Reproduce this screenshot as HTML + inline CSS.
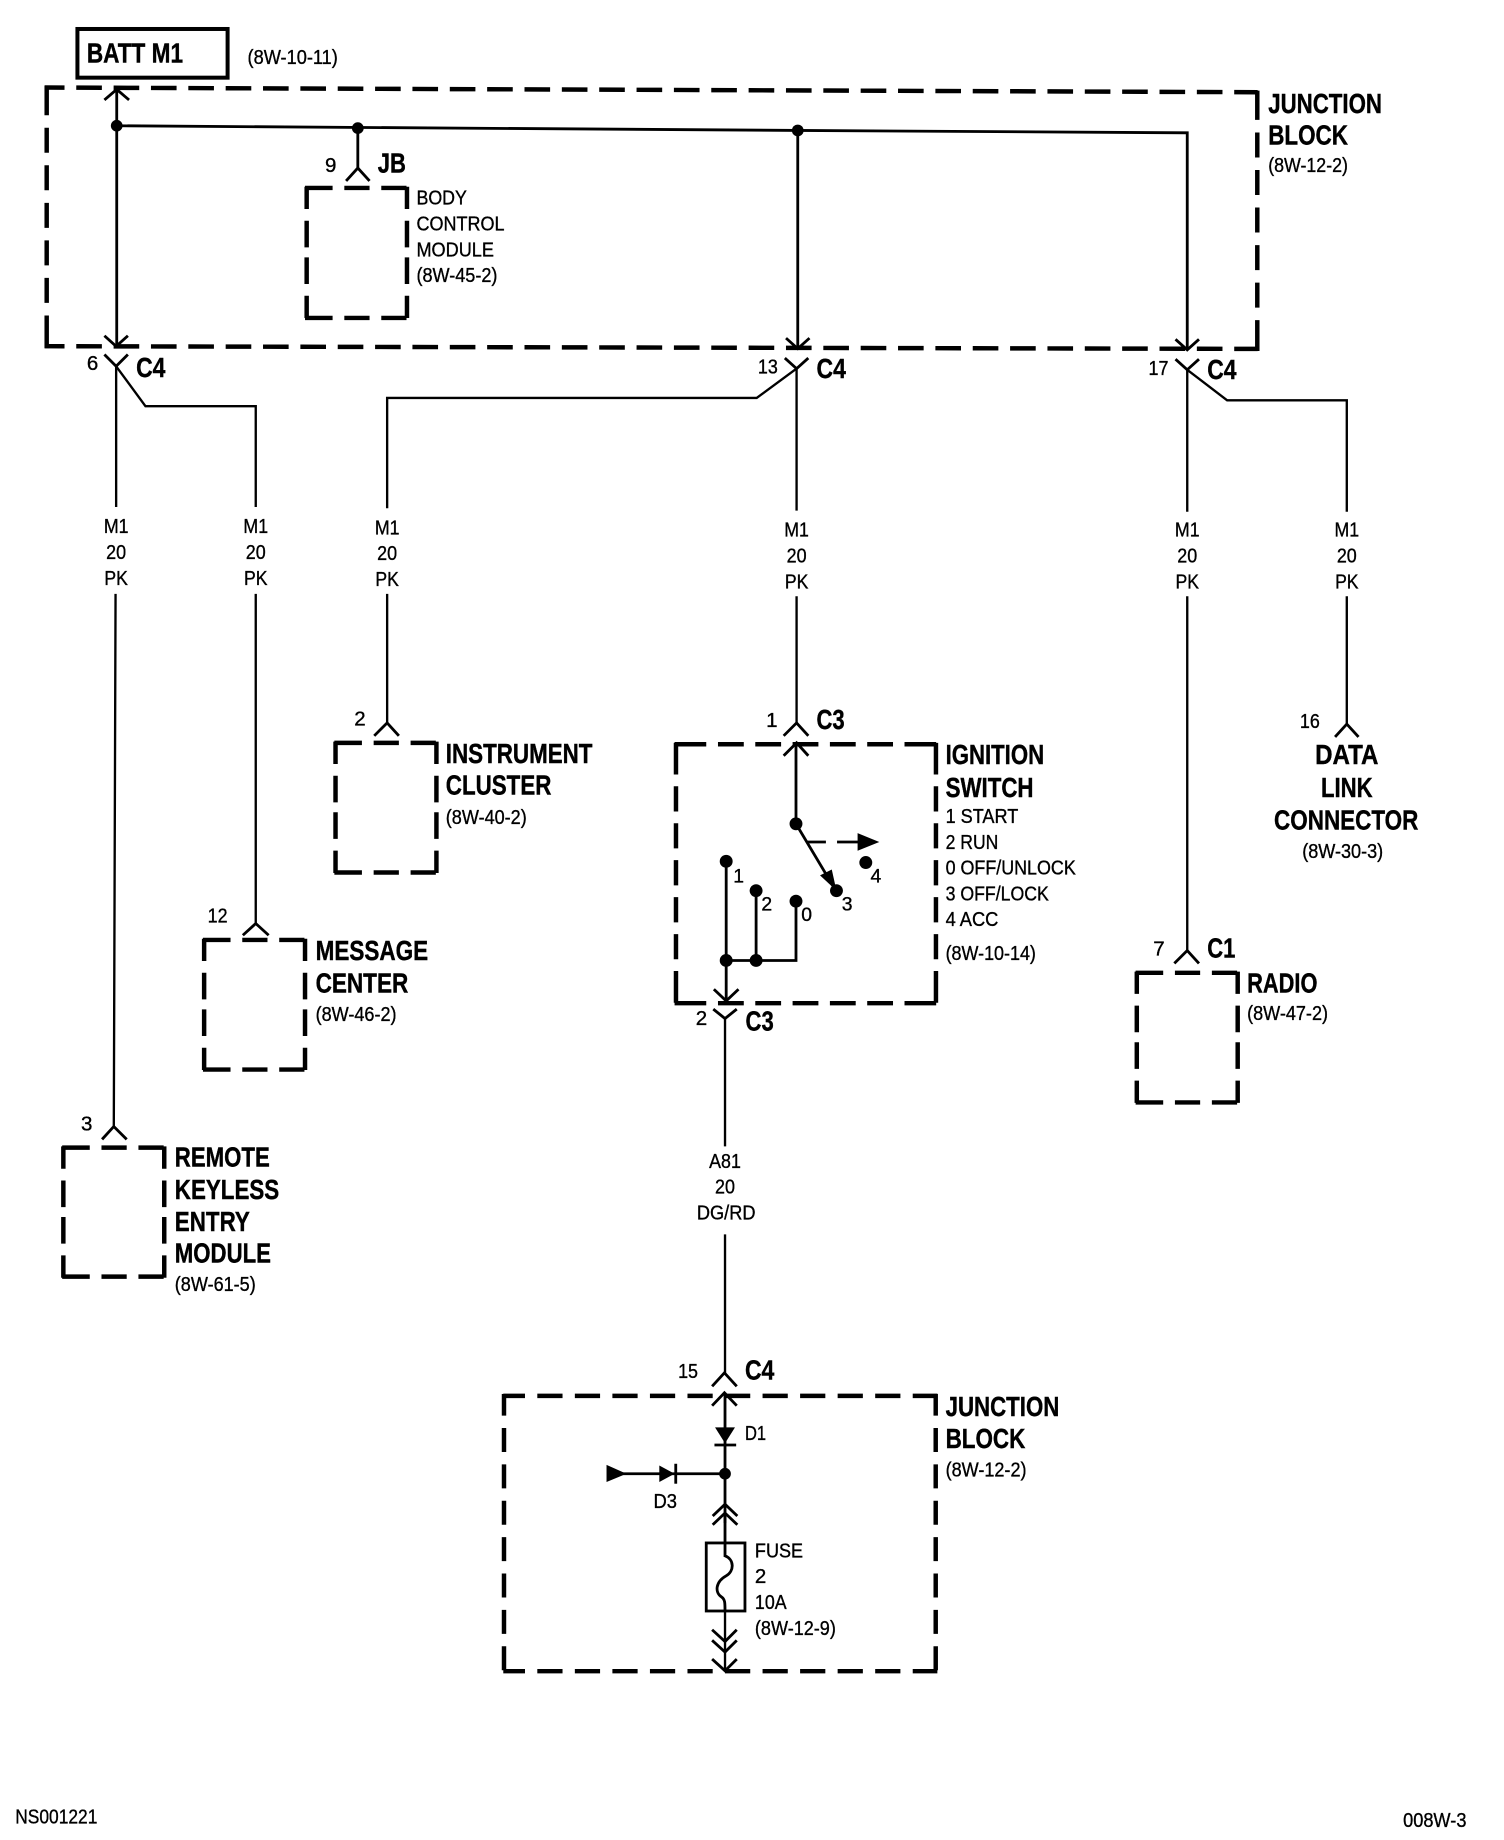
<!DOCTYPE html>
<html><head><meta charset="utf-8"><style>
html,body{margin:0;padding:0;background:#fff}
svg{display:block}
text{font-family:"Liberation Sans",Arial,sans-serif;fill:#000;stroke:#000}
.b{font-size:23.5px;font-weight:bold;stroke-width:.35px}
.n{font-size:17.5px;stroke-width:.3px;transform:translateY(-.7px)}
.f{font-size:16.5px;stroke-width:.3px}
.w{fill:none;stroke:#000;stroke-width:2}
.t{fill:none;stroke:#000;stroke-width:2.4}
.d{fill:none;stroke:#000;stroke-width:3.8}
.s1{stroke-dasharray:23.5 10 21.5 10 21.5}
.s2{stroke-dasharray:19 10 22.7 8.5 22.7 10 19}
.ms{stroke-dasharray:21.84 10;stroke-dashoffset:4.84}
.mv{stroke-dasharray:25 10.7 21.3 10.7 21.3 10.7 21.3 10.7 21.3 10.7 21.3 10.7 30}
.igh{stroke-dasharray:27 10 22 9.8 22 9.8 22 9.8 22 9.8 22 9.8 27}
.igv{stroke-dasharray:27 10 21.5 10 21.5 10 21.5 10 21.5 10 21.5 10 27}
.jh{stroke-dasharray:21.5 10.5;stroke-dashoffset:3}
.jv{stroke-dasharray:20.5 10.5;stroke-dashoffset:2}
</style></head><body>
<svg width="1504" height="1840" viewBox="0 0 1282 1568" xmlns="http://www.w3.org/2000/svg">
<rect width="1282" height="1568" fill="#fff"/>

<!-- BATT -->
<rect x="66" y="24.5" width="128" height="41.5" fill="none" stroke="#000" stroke-width="3.4"/>
<text class="b" x="74" y="53" textLength="82" lengthAdjust="spacingAndGlyphs">BATT M1</text>
<text class="n" x="211" y="55" textLength="77" lengthAdjust="spacingAndGlyphs">(8W-10-11)</text>

<!-- main junction box -->
<path class="d ms" d="M38 74.4L1072 78.4"/><path class="d ms" d="M38 294.9L1072 297.2"/>
<path class="d mv" d="M39.8 73V296.5"/><path class="d mv" d="M1071.7 77V299"/>
<text class="b" x="1081" y="96" textLength="97" lengthAdjust="spacingAndGlyphs">JUNCTION</text>
<text class="b" x="1081" y="123" textLength="68" lengthAdjust="spacingAndGlyphs">BLOCK</text>
<text class="n" x="1081" y="147" textLength="68" lengthAdjust="spacingAndGlyphs">(8W-12-2)</text>

<!-- bus -->
<path class="t" d="M99 107L680 111L1012 113V298"/>
<path class="t" d="M99.5 76V295"/><path class="t" d="M89 85L99.5 76L110 85"/>
<path class="t" d="M305 109V143"/><path class="t" d="M295 154L305 143L315 154"/>
<path class="t" d="M680 111V297"/>
<circle cx="99.5" cy="107" r="5"/><circle cx="305" cy="109" r="5"/><circle cx="680" cy="111" r="5"/>
<path class="t" d="M89 286L99 295L109 286"/><path class="t" d="M670 288L680 297L690 288"/><path class="t" d="M1002 289L1012 298L1022 289"/>
<path class="t" d="M89 302L99 312L109 302"/><path class="t" d="M669 305L679 314L689 305"/><path class="t" d="M1002 306L1012 315L1022 306"/>

<!-- BCM -->
<text class="n" x="277" y="147">9</text>
<text class="b" x="322" y="147" textLength="24" lengthAdjust="spacingAndGlyphs">JB</text>
<path class="d s1" d="M260 160H348"/><path class="d s1" d="M260 270.8H348"/>
<path class="d s2" d="M261.4 159V271"/><path class="d s2" d="M346.9 159V271"/>
<text class="n" x="355" y="175" textLength="43" lengthAdjust="spacingAndGlyphs">BODY</text>
<text class="n" x="355" y="197" textLength="75" lengthAdjust="spacingAndGlyphs">CONTROL</text>
<text class="n" x="355" y="219" textLength="66" lengthAdjust="spacingAndGlyphs">MODULE</text>
<text class="n" x="355" y="241" textLength="69" lengthAdjust="spacingAndGlyphs">(8W-45-2)</text>

<!-- C4 labels -->
<text class="n" x="74" y="316">6</text>
<text class="b" x="116" y="321" textLength="25" lengthAdjust="spacingAndGlyphs">C4</text>
<text class="n" x="646" y="319" textLength="17" lengthAdjust="spacingAndGlyphs">13</text>
<text class="b" x="696" y="322" textLength="25" lengthAdjust="spacingAndGlyphs">C4</text>
<text class="n" x="979" y="320" textLength="17" lengthAdjust="spacingAndGlyphs">17</text>
<text class="b" x="1029" y="323" textLength="25" lengthAdjust="spacingAndGlyphs">C4</text>

<!-- wires -->
<path class="w" d="M99 312V432M98.5 506L97 960"/>
<path class="w" d="M99 312L124 346H218V432M218 506V787"/>
<path class="w" d="M679 314L645 339H330V433M330 506V616"/>
<path class="w" d="M679 314V435M679 508V616"/>
<path class="w" d="M1012 315V436M1012 508V810"/>
<path class="w" d="M1012 315L1046 341H1148V436M1148 508V617"/>

<!-- wire labels -->
<g class="n" text-anchor="middle">
<text x="99" y="455" textLength="21" lengthAdjust="spacingAndGlyphs">M1</text><text x="99" y="477" textLength="17" lengthAdjust="spacingAndGlyphs">20</text><text x="99" y="499" textLength="20" lengthAdjust="spacingAndGlyphs">PK</text>
<text x="218" y="455" textLength="21" lengthAdjust="spacingAndGlyphs">M1</text><text x="218" y="477" textLength="17" lengthAdjust="spacingAndGlyphs">20</text><text x="218" y="499" textLength="20" lengthAdjust="spacingAndGlyphs">PK</text>
<text x="330" y="456" textLength="21" lengthAdjust="spacingAndGlyphs">M1</text><text x="330" y="478" textLength="17" lengthAdjust="spacingAndGlyphs">20</text><text x="330" y="500" textLength="20" lengthAdjust="spacingAndGlyphs">PK</text>
<text x="679" y="458" textLength="21" lengthAdjust="spacingAndGlyphs">M1</text><text x="679" y="480" textLength="17" lengthAdjust="spacingAndGlyphs">20</text><text x="679" y="502" textLength="20" lengthAdjust="spacingAndGlyphs">PK</text>
<text x="1012" y="458" textLength="21" lengthAdjust="spacingAndGlyphs">M1</text><text x="1012" y="480" textLength="17" lengthAdjust="spacingAndGlyphs">20</text><text x="1012" y="502" textLength="20" lengthAdjust="spacingAndGlyphs">PK</text>
<text x="1148" y="458" textLength="21" lengthAdjust="spacingAndGlyphs">M1</text><text x="1148" y="480" textLength="17" lengthAdjust="spacingAndGlyphs">20</text><text x="1148" y="502" textLength="20" lengthAdjust="spacingAndGlyphs">PK</text>
<text x="618" y="996" textLength="27" lengthAdjust="spacingAndGlyphs">A81</text><text x="618" y="1018" textLength="17" lengthAdjust="spacingAndGlyphs">20</text><text x="619" y="1040" textLength="50" lengthAdjust="spacingAndGlyphs">DG/RD</text>
</g>

<!-- Instrument cluster -->
<text class="n" x="302" y="619">2</text>
<path class="t" d="M319 627L330 616L340 627"/>
<path class="d s1" d="M285 633H373"/><path class="d s1" d="M285 743.5H373"/>
<path class="d s2" d="M286 632V744"/><path class="d s2" d="M372 632V744"/>
<text class="b" x="380" y="650" textLength="125" lengthAdjust="spacingAndGlyphs">INSTRUMENT</text>
<text class="b" x="380" y="677" textLength="90" lengthAdjust="spacingAndGlyphs">CLUSTER</text>
<text class="n" x="380" y="703" textLength="69" lengthAdjust="spacingAndGlyphs">(8W-40-2)</text>

<!-- Message center -->
<text class="n" x="177" y="787" textLength="17" lengthAdjust="spacingAndGlyphs">12</text>
<path class="t" d="M207 797L218 787L229 797"/>
<path class="d s1" d="M173 801H261"/><path class="d s1" d="M173 911.5H261"/>
<path class="d s2" d="M174 800V912"/><path class="d s2" d="M260 800V912"/>
<text class="b" x="269" y="818" textLength="96" lengthAdjust="spacingAndGlyphs">MESSAGE</text>
<text class="b" x="269" y="846" textLength="79" lengthAdjust="spacingAndGlyphs">CENTER</text>
<text class="n" x="269" y="871" textLength="69" lengthAdjust="spacingAndGlyphs">(8W-46-2)</text>

<!-- Remote keyless -->
<text class="n" x="69" y="964">3</text>
<path class="t" d="M87 971L97 960L108 971"/>
<path class="d s1" d="M53 978H141"/><path class="d s1" d="M53 1088H141"/>
<path class="d s2" d="M54 977V1089"/><path class="d s2" d="M140 977V1089"/>
<text class="b" x="149" y="994" textLength="81" lengthAdjust="spacingAndGlyphs">REMOTE</text>
<text class="b" x="149" y="1022" textLength="89" lengthAdjust="spacingAndGlyphs">KEYLESS</text>
<text class="b" x="149" y="1049" textLength="64" lengthAdjust="spacingAndGlyphs">ENTRY</text>
<text class="b" x="149" y="1076" textLength="82" lengthAdjust="spacingAndGlyphs">MODULE</text>
<text class="n" x="149" y="1101" textLength="69" lengthAdjust="spacingAndGlyphs">(8W-61-5)</text>

<!-- Ignition switch -->
<text class="n" x="653" y="620">1</text>
<text class="b" x="696" y="621" textLength="24" lengthAdjust="spacingAndGlyphs">C3</text>
<path class="t" d="M668 627L679 616L689 627"/>
<path class="t" d="M668 644L679 633L689 644"/>
<path class="d igh" d="M575 634.2H800"/><path class="d igh" d="M575 854.9H800"/>
<path class="d igv" d="M576.2 633V856"/><path class="d igv" d="M797.8 633V856"/>
<path class="t" d="M678.5 633V702L712.5 759"/>
<circle cx="678.5" cy="702" r="5.5"/>
<path d="M699 746L713 759L709 741Z"/>
<path class="t" d="M688 717.5H704M713.5 717.5H733"/>
<path d="M731 710L749.5 717.5L731 725Z"/>
<circle cx="738" cy="735" r="5.5"/><circle cx="713" cy="759" r="5.5"/>
<circle cx="619" cy="734" r="5.5"/><circle cx="644.5" cy="759" r="5.5"/><circle cx="678.5" cy="768" r="5.5"/>
<path class="t" d="M619 734V853M644.5 759V818.5M678.5 768V818.5H619"/>
<circle cx="619" cy="818.5" r="5.5"/><circle cx="644.5" cy="818.5" r="5.5"/>
<path class="t" d="M608.5 843L619 853L629.5 843"/>
<path class="t" d="M608 860L618 868L628 860"/>
<text class="f" x="625" y="752">1</text><text class="f" x="649" y="776">2</text><text class="f" x="683" y="785">0</text><text class="f" x="717.5" y="776">3</text><text class="f" x="742" y="752">4</text>
<text class="n" x="593" y="874">2</text>
<text class="b" x="635.5" y="878" textLength="24" lengthAdjust="spacingAndGlyphs">C3</text>
<text class="b" x="806" y="651" textLength="84" lengthAdjust="spacingAndGlyphs">IGNITION</text>
<text class="b" x="806" y="679" textLength="75" lengthAdjust="spacingAndGlyphs">SWITCH</text>
<text class="n" x="806" y="702" textLength="62" lengthAdjust="spacingAndGlyphs">1 START</text>
<text class="n" x="806" y="724" textLength="45" lengthAdjust="spacingAndGlyphs">2 RUN</text>
<text class="n" x="806" y="746" textLength="111" lengthAdjust="spacingAndGlyphs">0 OFF/UNLOCK</text>
<text class="n" x="806" y="768" textLength="88" lengthAdjust="spacingAndGlyphs">3 OFF/LOCK</text>
<text class="n" x="806" y="790" textLength="45" lengthAdjust="spacingAndGlyphs">4 ACC</text>
<text class="n" x="806" y="819" textLength="77" lengthAdjust="spacingAndGlyphs">(8W-10-14)</text>

<!-- Data link -->
<text class="n" x="1108" y="621" textLength="17" lengthAdjust="spacingAndGlyphs">16</text>
<path class="t" d="M1138 628L1148 617L1158 628"/>
<text class="b" x="1121" y="651" textLength="54" lengthAdjust="spacingAndGlyphs">DATA</text>
<text class="b" x="1126" y="679" textLength="44" lengthAdjust="spacingAndGlyphs">LINK</text>
<text class="b" x="1086" y="707" textLength="123" lengthAdjust="spacingAndGlyphs">CONNECTOR</text>
<text class="n" x="1110" y="732" textLength="69" lengthAdjust="spacingAndGlyphs">(8W-30-3)</text>

<!-- Radio -->
<text class="n" x="983" y="815">7</text>
<text class="b" x="1029" y="816" textLength="24" lengthAdjust="spacingAndGlyphs">C1</text>
<path class="t" d="M1001 821L1012 810L1022 821"/>
<path class="d s1" d="M968 829H1056"/><path class="d s1" d="M968 939.5H1056"/>
<path class="d s2" d="M969 828V940"/><path class="d s2" d="M1055 828V940"/>
<text class="b" x="1063" y="846" textLength="60" lengthAdjust="spacingAndGlyphs">RADIO</text>
<text class="n" x="1063" y="870" textLength="69" lengthAdjust="spacingAndGlyphs">(8W-47-2)</text>

<!-- A81 -->
<path class="w" d="M618 868V977M618 1052V1170"/>

<!-- Lower junction block -->
<text class="n" x="578" y="1175" textLength="17" lengthAdjust="spacingAndGlyphs">15</text>
<text class="b" x="635" y="1175.5" textLength="25" lengthAdjust="spacingAndGlyphs">C4</text>
<path class="t" d="M607 1181.5L617.5 1170L628 1181.5"/>
<path class="t" d="M607 1198L617.5 1187L628 1198"/>
<path class="d jh" d="M429 1189.6H799"/><path class="d jh" d="M429 1424.3H799"/>
<path class="d jv" d="M429.6 1188V1426"/><path class="d jv" d="M797.6 1188V1426"/>
<text class="b" x="806" y="1207" textLength="97" lengthAdjust="spacingAndGlyphs">JUNCTION</text>
<text class="b" x="806" y="1234" textLength="68" lengthAdjust="spacingAndGlyphs">BLOCK</text>
<text class="n" x="806" y="1259" textLength="69" lengthAdjust="spacingAndGlyphs">(8W-12-2)</text>
<path class="t" d="M618 1187V1298"/>
<path d="M609.5 1216.5H626.5L618 1230Z"/>
<path class="t" d="M609 1231.5H627.5"/>
<text class="n" x="635" y="1228" textLength="18" lengthAdjust="spacingAndGlyphs">D1</text>
<path d="M517 1248.5L534 1256L517 1263Z"/>
<path class="t" d="M531 1256H618"/>
<path d="M562 1249L575 1256L562 1263Z"/>
<path class="t" d="M576 1247.5V1264.5"/>
<circle cx="618" cy="1256" r="5"/>
<text class="n" x="557" y="1286" textLength="20" lengthAdjust="spacingAndGlyphs">D3</text>
<path class="t" d="M607.5 1292L618 1282L628.5 1292"/>
<path class="t" d="M607.5 1299.5L618 1289.5L628.5 1299.5"/>
<path class="t" d="M618 1289V1326C626 1329 626 1339 619 1343C610 1348 609 1357 615 1361C618 1363 618 1366 618 1373"/>
<rect x="602" y="1315" width="33" height="58" fill="none" stroke="#000" stroke-width="2.4"/>
<path class="w" d="M618 1373V1424"/>
<path class="t" d="M607 1389L618 1399L628 1389"/>
<path class="t" d="M607 1398L618 1408L628 1398"/>
<path class="t" d="M607 1414L618 1424L628 1414"/>
<text class="n" x="643.5" y="1328" textLength="41" lengthAdjust="spacingAndGlyphs">FUSE</text>
<text class="n" x="643.5" y="1350">2</text>
<text class="n" x="643.5" y="1372" textLength="27" lengthAdjust="spacingAndGlyphs">10A</text>
<text class="n" x="643.5" y="1394" textLength="69" lengthAdjust="spacingAndGlyphs">(8W-12-9)</text>

<!-- footer -->
<text class="n" x="13" y="1555" textLength="70" lengthAdjust="spacingAndGlyphs">NS001221</text>
<text class="n" x="1196" y="1558" textLength="54" lengthAdjust="spacingAndGlyphs">008W-3</text>
</svg>
</body></html>
